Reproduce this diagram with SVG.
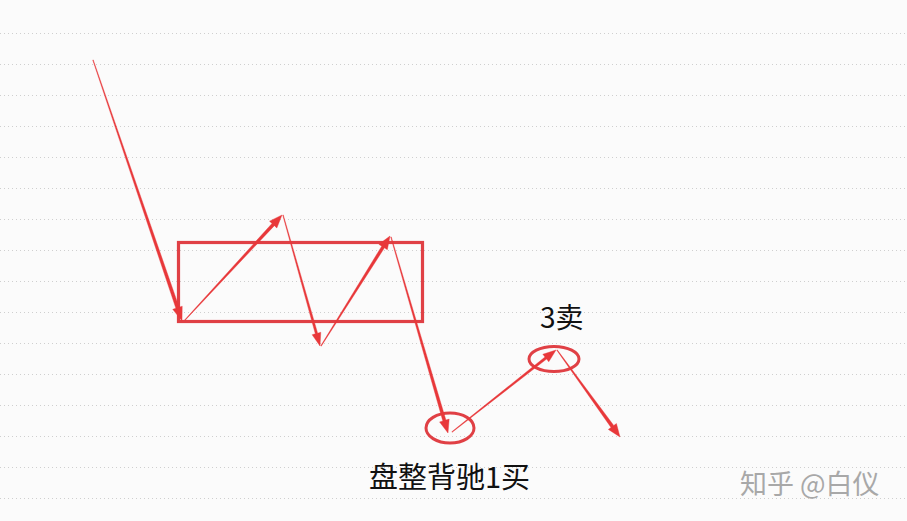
<svg xmlns="http://www.w3.org/2000/svg" width="907" height="521" viewBox="0 0 907 521">
<style>
.grid{stroke:#cfcfcf;stroke-width:1;stroke-dasharray:1 3;fill:none}
.arr{fill:#e8383a;stroke:#e8383a;stroke-width:0.4;stroke-linejoin:miter}
.box{fill:none;stroke:#e04045;stroke-width:3.2}
.ring{fill:none;stroke:#e04045;stroke-width:3}
.lbl{font-family:"Noto Sans CJK SC","Noto Sans",sans-serif;fill:#111}
.wm{font-family:"Noto Sans CJK SC","Noto Sans",sans-serif;fill:#a8a8a8;font-size:27px}
</style>
<rect width="907" height="521" fill="#fbfbfb"/>
<g id="grid">
<line class="grid" x1="0" y1="33.5" x2="907" y2="33.5"/>
<line class="grid" x1="0" y1="64.5" x2="907" y2="64.5"/>
<line class="grid" x1="0" y1="95.5" x2="907" y2="95.5"/>
<line class="grid" x1="0" y1="126.5" x2="907" y2="126.5"/>
<line class="grid" x1="0" y1="157.5" x2="907" y2="157.5"/>
<line class="grid" x1="0" y1="188.5" x2="907" y2="188.5"/>
<line class="grid" x1="0" y1="219.5" x2="907" y2="219.5"/>
<line class="grid" x1="0" y1="250.5" x2="907" y2="250.5"/>
<line class="grid" x1="0" y1="281.5" x2="907" y2="281.5"/>
<line class="grid" x1="0" y1="312.5" x2="907" y2="312.5"/>
<line class="grid" x1="0" y1="343.5" x2="907" y2="343.5"/>
<line class="grid" x1="0" y1="374.5" x2="907" y2="374.5"/>
<line class="grid" x1="0" y1="405.5" x2="907" y2="405.5"/>
<line class="grid" x1="0" y1="436.5" x2="907" y2="436.5"/>
<line class="grid" x1="0" y1="467.5" x2="907" y2="467.5"/>
<line class="grid" x1="0" y1="498.5" x2="907" y2="498.5"/>
</g>
<g id="consolidation-box">
<rect class="box" x="178.5" y="242.5" width="244" height="79"/>
</g>
<g id="ring-buy1">
<ellipse class="ring" cx="450" cy="428" rx="24" ry="15"/>
</g>
<g id="ring-sell3">
<ellipse class="ring" cx="554" cy="359" rx="25" ry="12.5"/>
</g>
<g id="connectors">
<polygon class="arr" points="92.72,60.10 175.87,308.30 172.75,309.36 182,321 182.21,306.14 179.09,307.20 93.28,59.90"/>
<polygon class="arr" points="185.22,320.20 274.36,225.64 276.85,227.94 282,215 269.51,221.16 272.01,223.46 184.78,319.80"/>
<polygon class="arr" points="282.71,215.08 315.31,333.82 312.14,334.71 320,346 320.80,332.27 317.63,333.16 283.29,214.92"/>
<polygon class="arr" points="321.25,346.16 384.45,247.86 387.33,249.67 390,236 378.85,244.35 381.74,246.16 320.75,345.84"/>
<polygon class="arr" points="390.71,237.08 442.83,420.97 439.57,421.92 448,433 449.17,419.12 445.91,420.07 391.29,236.92"/>
<polygon class="arr" points="452.19,432.24 546.60,359.07 548.76,361.82 556,350 542.82,354.28 544.99,357.03 451.81,431.76"/>
<polygon class="arr" points="556.76,350.18 611.00,427.47 608.33,429.40 620,437 616.43,423.54 613.76,425.47 557.24,349.82"/>
</g>
<g id="label-sell3">
<text class="lbl" x="540" y="328" font-size="28">3卖</text>
</g>
<g id="label-buy1">
<text class="lbl" x="369" y="488" font-size="29">盘整背驰1买</text>
</g>
<g id="watermark">
<text class="wm" x="740" y="494">知乎 @白仪</text>
</g>
</svg>
